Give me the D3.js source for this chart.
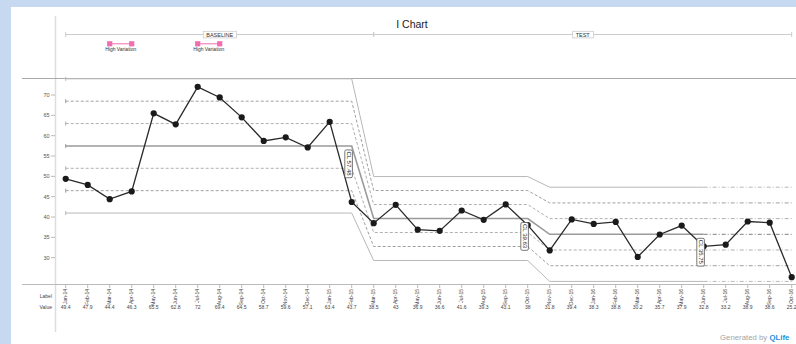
<!DOCTYPE html>
<html><head><meta charset="utf-8">
<script src="https://cdn.jsdelivr.net/npm/d3@7"></script>
<style>
html,body{margin:0;padding:0;background:#c6d9f1;}
svg{display:block;font-family:"Liberation Sans",Arial,sans-serif;}
</style></head>
<body>
<svg id="c" width="796" height="344"></svg>
<script>
// ---- data ----
const labels = ["Jan-14","Feb-14","Mar-14","Apr-14","May-14","Jun-14","Jul-14","Aug-14","Sep-14","Oct-14","Nov-14","Dec-14",
  "Jan-15","Feb-15","Mar-15","Apr-15","May-15","Jun-15","Jul-15","Aug-15","Sep-15","Oct-15","Nov-15","Dec-15",
  "Jan-16","Feb-16","Mar-16","Apr-16","May-16","Jun-16","Jul-16","Aug-16","Sep-16","Oct-16"];
const values = [49.4,47.9,44.4,46.3,65.5,62.8,72,69.4,64.5,58.7,59.6,57.1,63.4,43.7,
  38.5,43,36.9,36.6,41.6,39.3,43.1,38,
  31.8,39.4,38.3,38.8,30.2,35.7,37.9,32.8,33.2,38.9,38.6,25.2];
const yTicks = [30,35,40,45,50,55,60,65,70];
// control-limit segments
const segStart = [0,14,22];
const segCalcEnd = [13,21,29];
const segEnd = [13,21,33];
const segCL = [57.48,39.63,35.75];
const segSigma = [5.5,3.44,3.86];
const segLabel = ["CL 57.48","CL 39.63","CL 35.75"];
// phases
const phaseNames = ["BASELINE","TEST"];
const phaseStart = [0,14];
const phaseEnd = [14,33];
// annotations
const annoStart = [2,6];
const annoEnd = [3,7];
const annoText = ["High Variation","High Variation"];

// ---- drawing ----
const svg = d3.select("#c");
svg.append("rect").attr("x",11).attr("y",7).attr("width",785).attr("height",337).attr("fill","#fff");

const x = d3.scalePoint().domain(labels).range([65.7,791.7]);
const y = d3.scaleLinear().domain([30,70]).range([257.7,95]);
const xi = i => x(labels[i]);

// title
svg.append("text").attr("x",412).attr("y",28).attr("text-anchor","middle")
  .attr("font-size",10.5).attr("fill","#222").text("I Chart");

// left vertical axis line
svg.append("line").attr("x1",55.5).attr("x2",55.5).attr("y1",16).attr("y2",332)
  .attr("stroke","#ddd").attr("stroke-width",1.5);
// top separator & bottom axis
svg.append("line").attr("x1",22).attr("x2",796).attr("y1",78.5).attr("y2",78.5)
  .attr("stroke","#aaa").attr("stroke-width",1);
svg.append("line").attr("x1",22).attr("x2",796).attr("y1",284.5).attr("y2",284.5)
  .attr("stroke","#bbb").attr("stroke-width",1);

// phase bar
phaseNames.forEach((n,i)=>{
  const a = xi(phaseStart[i]), b = xi(phaseEnd[i]);
  svg.append("line").attr("x1",a).attr("x2",b).attr("y1",34.5).attr("y2",34.5).attr("stroke","#ccc");
  [a,b].forEach(v=>svg.append("line").attr("x1",v).attr("x2",v).attr("y1",32).attr("y2",37).attr("stroke","#ccc"));
  const t = svg.append("text").attr("x",(a+b)/2).attr("y",36.5).attr("text-anchor","middle")
    .attr("font-size",5.5).attr("fill","#333").text(n);
  const bb = t.node().getBBox();
  svg.insert("rect","text:last-of-type").attr("x",bb.x-3).attr("y",31.3).attr("width",bb.width+6).attr("height",6.6)
    .attr("fill","#fff").attr("stroke","#ccc").attr("stroke-width",0.8);
  t.raise();
});

// annotations
annoStart.forEach((s,i)=>{
  const a = xi(s), b = xi(annoEnd[i]);
  svg.append("line").attr("x1",a).attr("x2",b).attr("y1",43.8).attr("y2",43.8).attr("stroke","#f06eb0").attr("stroke-width",1);
  [a,b].forEach(v=>svg.append("rect").attr("x",v-2.6).attr("y",41.2).attr("width",5.2).attr("height",5.2).attr("fill","#f06eb0"));
  svg.append("text").attr("x",(a+b)/2).attr("y",50.5).attr("text-anchor","middle")
    .attr("font-size",5).attr("fill","#333").text(annoText[i]);
});

// y axis ticks
yTicks.forEach(t=>{
  svg.append("line").attr("x1",51).attr("x2",55).attr("y1",y(t)).attr("y2",y(t)).attr("stroke","#aaa").attr("stroke-width",0.8);
  svg.append("text").attr("x",49.5).attr("y",y(t)+2).attr("text-anchor","end")
    .attr("font-size",5.5).attr("fill","#555").text(t);
});

// control limit lines
const styles = {
  3:{stroke:"#b8b8b8",w:1,dash:null},
  2:{stroke:"#a0a0a0",w:1,dash:"3,2"},
  1:{stroke:"#b0b0b0",w:1,dash:"3,2"},
  0:{stroke:"#9a9a9a",w:1.6,dash:null}
};
const line = d3.line().x(d=>d[0]).y(d=>d[1]);
[-3,-2,-1,0,1,2,3].forEach(k=>{
  const st = styles[Math.abs(k)];
  const pts = [];
  segStart.forEach((s,i)=>{
    const v = segCL[i] + k*segSigma[i];
    pts.push([xi(s), y(v)]);
    pts.push([xi(segCalcEnd[i]), y(v)]);
  });
  svg.append("path").attr("d",line(pts)).attr("fill","none")
    .attr("stroke",st.stroke).attr("stroke-width",st.w).attr("stroke-dasharray",st.dash);
  const li = segStart.length-1;
  const v = segCL[li] + k*segSigma[li];
  svg.append("path").attr("d",line([[xi(segCalcEnd[li]),y(v)],[xi(segEnd[li]),y(v)]])).attr("fill","none")
    .attr("stroke",st.stroke).attr("stroke-width",k===0?1.2:1).attr("stroke-dasharray","4,2,1,2");
  svg.append("line").attr("x1",xi(0)).attr("x2",xi(0)).attr("y1",y(segCL[0]+k*segSigma[0])-2).attr("y2",y(segCL[0]+k*segSigma[0])+2)
    .attr("stroke",st.stroke);
});

// data line & points
svg.append("path").datum(values).attr("fill","none").attr("stroke","#2a2a2a").attr("stroke-width",1.3)
  .attr("d",d3.line().x((d,i)=>xi(i)).y(d=>y(d)));
svg.selectAll("circle.pt").data(values).join("circle").attr("class","pt")
  .attr("cx",(d,i)=>xi(i)).attr("cy",d=>y(d)).attr("r",3.1).attr("fill","#1a1a1a");

// CL labels
segLabel.forEach((txt,i)=>{
  const cx = xi(segCalcEnd[i]) - 3, cy = y(segCL[i]) + 4;
  const g = svg.append("g").attr("transform",`translate(${cx},${cy}) rotate(90)`);
  const t = g.append("text").attr("x",1.5).attr("y",0).attr("dy","0.35em")
    .attr("font-size",6).attr("fill","#222").text(txt);
  const bb = t.node().getBBox();
  g.insert("rect","text").attr("x",bb.x-1.5).attr("y",bb.y-0.8).attr("width",bb.width+3).attr("height",bb.height+1.6)
    .attr("rx",1.5).attr("fill","#fff").attr("stroke","#555").attr("stroke-width",0.8);
});

// bottom ticks, labels, values
svg.append("text").attr("x",52).attr("y",298).attr("text-anchor","end").attr("font-size",5).attr("fill","#444").text("Label");
svg.append("text").attr("x",52).attr("y",309).attr("text-anchor","end").attr("font-size",5).attr("fill","#444").text("Value");
labels.forEach((l,i)=>{
  svg.append("line").attr("x1",xi(i)).attr("x2",xi(i)).attr("y1",284.5).attr("y2",288).attr("stroke","#bbb");
  svg.append("text").attr("transform",`translate(${xi(i)},289) rotate(-90)`).attr("text-anchor","end")
    .attr("dy","0.35em").attr("font-size",5).attr("fill","#444").text(l);
  svg.append("text").attr("x",xi(i)).attr("y",309).attr("text-anchor","middle")
    .attr("font-size",5).attr("fill","#444").text(values[i]);
});

// footer
const f = svg.append("text").attr("x",720).attr("y",340).attr("font-size",7.8);
f.append("tspan").attr("fill","#a5a5a5").text("Generated by ");
f.append("tspan").attr("fill","#1e8fe1").attr("font-weight","bold").text("QLife");
</script>
</body></html>
